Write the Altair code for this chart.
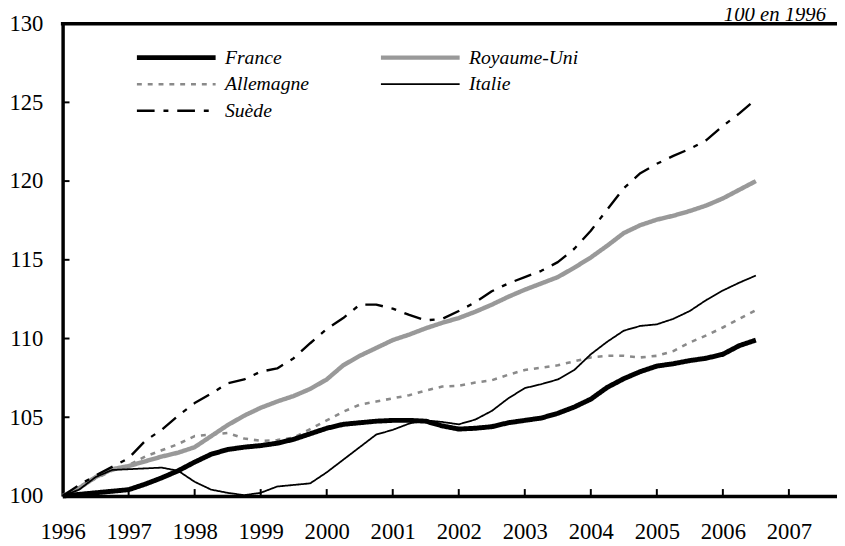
import altair as alt
import pandas as pd

# ---- data (index 100 in 1996, quarterly 1996Q1 .. 2006Q3) ----
quarters = [1996 + q / 4 for q in range(43)]

france = [100.0, 100.1, 100.2, 100.3, 100.4, 100.75, 101.15, 101.6, 102.15, 102.65,
          102.95, 103.1, 103.2, 103.35, 103.6, 103.95, 104.3, 104.55, 104.65, 104.75,
          104.8, 104.8, 104.75, 104.45, 104.25, 104.3, 104.4, 104.65, 104.8, 104.95,
          105.25, 105.65, 106.15, 106.9, 107.45, 107.9, 108.25, 108.4, 108.6, 108.75,
          109.0, 109.55, 109.9]
royaume_uni = [100.0, 100.5, 101.2, 101.7, 101.9, 102.2, 102.5, 102.75, 103.1, 103.8,
               104.5, 105.1, 105.6, 106.0, 106.35, 106.8, 107.4, 108.3, 108.9, 109.4,
               109.9, 110.25, 110.65, 111.0, 111.3, 111.7, 112.15, 112.65, 113.1, 113.5,
               113.9, 114.5, 115.15, 115.9, 116.7, 117.2, 117.55, 117.8, 118.1, 118.45,
               118.9, 119.45, 120.0]
allemagne = [100.0, 100.6, 101.1, 101.6, 101.95, 102.5, 102.9, 103.3, 103.8, 103.9,
             104.0, 103.65, 103.5, 103.55, 103.7, 104.25, 104.8, 105.35, 105.8, 106.0,
             106.2, 106.4, 106.7, 106.95, 107.0, 107.2, 107.35, 107.7, 108.0, 108.15,
             108.3, 108.55, 108.8, 108.9, 108.9, 108.8, 108.9, 109.2, 109.75, 110.2,
             110.7, 111.25, 111.8]
italie = [100.0, 100.4, 101.2, 101.65, 101.7, 101.75, 101.8, 101.6, 100.9, 100.4,
          100.2, 100.05, 100.2, 100.6, 100.7, 100.8, 101.5, 102.3, 103.1, 103.9,
          104.2, 104.6, 104.8, 104.7, 104.55, 104.85, 105.4, 106.2, 106.85, 107.1,
          107.4, 108.0, 109.0, 109.8, 110.5, 110.8, 110.9, 111.25, 111.75, 112.45,
          113.05, 113.55, 114.0]
suede = [100.0, 100.7, 101.3, 101.85, 102.4, 103.5, 104.2, 105.1, 105.9, 106.5,
         107.15, 107.4, 107.9, 108.1, 108.75, 109.7, 110.6, 111.3, 112.15, 112.15,
         111.9, 111.5, 111.15, 111.25, 111.75, 112.3, 113.0, 113.5, 113.9, 114.3,
         114.85, 115.7, 116.85, 118.2, 119.55, 120.5, 121.1, 121.6, 122.05, 122.6,
         123.5, 124.3, 125.2]

names = ["France", "Royaume-Uni", "Allemagne", "Italie", "Suède"]
series = {"France": france, "Royaume-Uni": royaume_uni, "Allemagne": allemagne,
          "Italie": italie, "Suède": suede}
draw_order = ["Allemagne", "Royaume-Uni", "Suède", "Italie", "France"]

x_ticks = list(range(1996, 2008))
y_ticks = [100, 105, 110, 115, 120, 125, 130]
note = "100 en 1996"

# ---- styles ----
colors = ["#000000", "#999999", "#8a8a8a", "#000000", "#000000"]
dashes = [[1, 0], [1, 0], [5, 6], [1, 0], [18, 9, 5, 9]]
widths = [5, 4.5, 2.6, 1.8, 2.4]
FONT = "Liberation Serif"
W, H = 787, 480
PX_PER_YEAR = 67.1

rows = []
for n in draw_order:
    w = widths[names.index(n)]
    for t, v in zip(quarters, series[n]):
        rows.append({"annee": t, "indice": v, "pays": n, "epaisseur": w})
df = pd.DataFrame(rows)

width_expr = "(datum && datum.value ? ([" + ",".join(str(w) for w in widths) + \
    "][indexof([" + ",".join("'" + n + "'" for n in names) + \
    "], datum.value)] || 3) : 3)"

legend = alt.Legend(
    title=None, orient="none", legendX=74, legendY=24, direction="horizontal",
    columns=2, symbolType="stroke", symbolSize=6400, clipHeight=21,
    symbolStrokeWidth={"expr": width_expr},
    labelFont=FONT, labelFontStyle="italic", labelFontSize=20, labelColor="black",
    labelOffset=8, columnPadding=71, rowPadding=6, padding=0, symbolOffset=0,
)

xscale = alt.Scale(domain=[1996, 1996 + W / PX_PER_YEAR], nice=False, zero=False)
yscale = alt.Scale(domain=[100, 130], nice=False, zero=False)

lines = alt.Chart(df).mark_line(strokeJoin="round").encode(
    x=alt.X("annee:Q", scale=xscale,
            axis=alt.Axis(values=x_ticks, format="d", title=None, labelFont=FONT,
                          labelFontSize=23, labelColor="black", domainColor="black",
                          domainWidth=3.5, ticks=False, labelPadding=25, grid=False,
                          labelFlush=False, labelOverlap=False)),
    y=alt.Y("indice:Q", scale=yscale,
            axis=alt.Axis(values=y_ticks, title=None, labelFont=FONT, labelFontSize=23,
                          labelColor="black", domainColor="black", domainWidth=3.5,
                          ticks=False, labelPadding=20, grid=False, labelFlush=False,
                          labelOverlap=False)),
    color=alt.Color("pays:N", scale=alt.Scale(domain=names, range=colors), legend=legend),
    strokeDash=alt.StrokeDash("pays:N", scale=alt.Scale(domain=names, range=dashes),
                              legend=legend),
    strokeWidth=alt.StrokeWidth("epaisseur:Q", scale=None, legend=None),
)

xt = alt.Chart(pd.DataFrame({"annee": x_ticks[1:]})).mark_rule(
    color="black", strokeWidth=2).encode(
    x="annee:Q", y=alt.value(H), y2=alt.value(H - 7))
yt = alt.Chart(pd.DataFrame({"indice": y_ticks[1:-1]})).mark_rule(
    color="black", strokeWidth=2).encode(
    y="indice:Q", x=alt.value(0), x2=alt.value(7))
top = alt.Chart(pd.DataFrame({"k": [0]})).mark_rule(
    color="black", strokeWidth=3.5).encode(
    y=alt.value(0), x=alt.value(-1.75), x2=alt.value(W))
txt = alt.Chart(pd.DataFrame({"t": [note]})).mark_text(
    font=FONT, fontStyle="italic", fontSize=21, align="left", baseline="alphabetic",
    color="black").encode(text="t:N", x=alt.value(672), y=alt.value(-2.5))

chart = alt.layer(lines, xt, yt, top, txt).properties(
    width=W, height=H,
    autosize=alt.AutoSizeParams(type="none"),
    padding={"left": 55.5, "top": 11.5, "right": 0, "bottom": 50},
).configure_view(stroke=None).configure(background="white")

chart.save("out.html", embed_options={"renderer": "svg", "actions": False})
